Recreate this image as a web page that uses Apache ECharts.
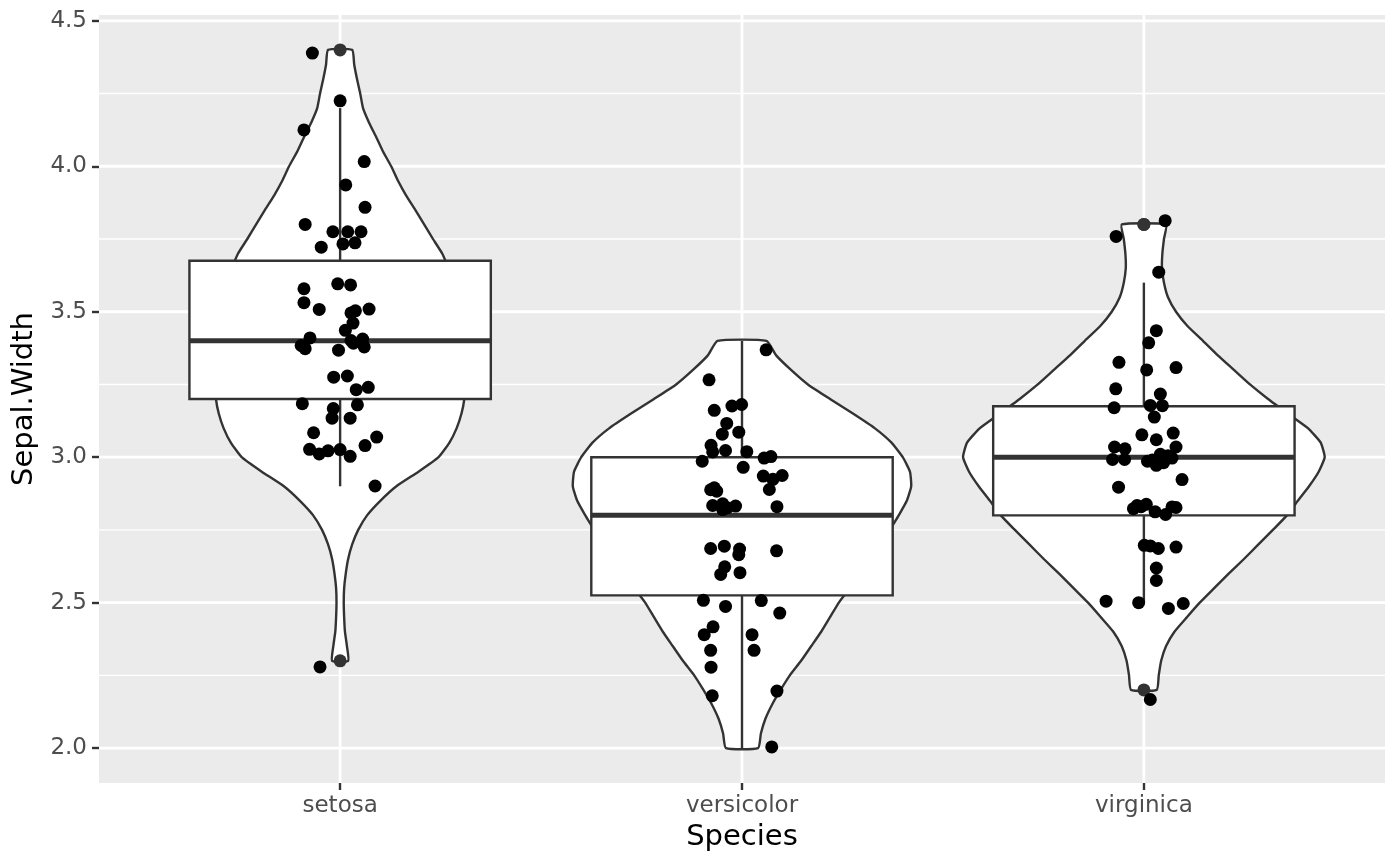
<!DOCTYPE html>
<html>
<head>
<meta charset="utf-8">
<title>Sepal.Width by Species</title>
<script src="https://cdn.jsdelivr.net/npm/echarts@6/dist/echarts.min.js"></script>
<style>
  html, body { margin: 0; padding: 0; background: #fff; }
  #chart { width: 1400px; height: 866px; }
</style>
</head>
<body>
<div id="chart"></div>
<script type="text/javascript">
// categories and axis ticks
var species = ['setosa', 'versicolor', 'virginica'];
var yMajor = [2.0, 2.5, 3.0, 3.5, 4.0, 4.5];
var yMinor = [2.25, 2.75, 3.25, 3.75, 4.25];

// box stats: lower whisker, Q1, median, Q3, upper whisker
var setosaBox = [2.9, 3.2, 3.4, 3.675, 4.2];
var versicolorBox = [2.0, 2.525, 2.8, 3.0, 3.4];
var virginicaBox = [2.5, 2.8, 3.0, 3.175, 3.6];
var setosaOut = [2.3, 4.4];
var versicolorOut = [];
var virginicaOut = [2.2, 3.8, 3.8];

// violin half widths (x units), read every 0.05 starting at the violin bottom
var violinStep = 0.05;
var setosaViolinFrom = 2.3;
var setosaViolin = [0.020, 0.017, 0.012, 0.010, 0.009, 0.010, 0.014, 0.020, 0.030, 0.045,
  0.067, 0.100, 0.140, 0.195, 0.245, 0.272, 0.290, 0.302, 0.309, 0.311, 0.314, 0.311, 0.309,
  0.304, 0.299, 0.291, 0.281, 0.269, 0.254, 0.231, 0.209, 0.187, 0.164, 0.144, 0.127, 0.107,
  0.090, 0.072, 0.057, 0.050, 0.042, 0.035, 0.030];
var versicolorViolinFrom = 2.0;
var versicolorViolin = [0.040, 0.047, 0.058, 0.075, 0.096, 0.119, 0.147, 0.172, 0.197, 0.219,
  0.241, 0.269, 0.299, 0.323, 0.348, 0.368, 0.390, 0.410, 0.421, 0.418, 0.400, 0.372, 0.330,
  0.276, 0.219, 0.164, 0.122, 0.085, 0.061];
var virginicaViolinFrom = 2.2;
var virginicaViolin = [0.032, 0.037, 0.043, 0.055, 0.076, 0.107, 0.139, 0.175, 0.211, 0.249,
  0.285, 0.321, 0.356, 0.383, 0.411, 0.435, 0.450, 0.440, 0.408, 0.358, 0.309, 0.264, 0.224,
  0.184, 0.147, 0.109, 0.080, 0.060, 0.050, 0.045, 0.046, 0.050, 0.055];

// jittered points: x offset from the category centre, and y value
var setosaJx = [-0.069, 0.000, -0.090, 0.060, 0.014, 0.062, -0.087, -0.018, 0.019, 0.052,
  -0.047, 0.007, 0.037, -0.006, 0.026, -0.090, -0.090, -0.052, 0.027, 0.038, 0.072, 0.032,
  0.013, -0.075, -0.097, -0.087, -0.004, 0.027, 0.056, 0.060, 0.033, -0.016, 0.018, 0.040,
  0.070, -0.094, -0.017, 0.043, -0.020, 0.025, -0.066, -0.076, -0.052, -0.030, 0.000, 0.025,
  0.062, 0.091, 0.087, -0.050];
var setosaJy = [4.389, 4.225, 4.125, 4.016, 3.936, 3.859, 3.800, 3.775, 3.775, 3.775,
  3.722, 3.733, 3.737, 3.596, 3.592, 3.579, 3.531, 3.508, 3.496, 3.503, 3.509, 3.461,
  3.436, 3.410, 3.384, 3.373, 3.368, 3.401, 3.406, 3.379, 3.392, 3.275, 3.279, 3.232,
  3.240, 3.184, 3.167, 3.180, 3.134, 3.134, 3.084, 3.027, 3.011, 3.022, 3.026, 3.003,
  3.040, 3.069, 2.901, 2.279];
var versicolorJx = [0.060, -0.082, -0.069, -0.025, -0.001, -0.038, -0.008, -0.049, -0.077, -0.073,
  -0.041, 0.012, 0.055, 0.072, -0.099, 0.003, 0.053, 0.100, 0.077, 0.068, -0.078, -0.063,
  -0.069, -0.073, -0.048, -0.048, -0.016, 0.087, -0.037, -0.078, -0.044, -0.008, -0.006,
  0.086, -0.043, -0.053, -0.005, -0.096, -0.041, 0.048, 0.094, -0.072, -0.094, 0.025,
  -0.078, 0.030, -0.077, -0.074, 0.087, 0.074];
var versicolorJy = [3.369, 3.266, 3.161, 3.176, 3.181, 3.116, 3.086, 3.079, 3.041, 3.018,
  3.023, 3.019, 2.997, 3.002, 2.986, 2.965, 2.935, 2.937, 2.924, 2.889, 2.888, 2.883,
  2.895, 2.834, 2.840, 2.820, 2.832, 2.830, 2.826, 2.686, 2.694, 2.665, 2.684,
  2.678, 2.623, 2.597, 2.603, 2.508, 2.487, 2.507, 2.464, 2.417, 2.390, 2.390,
  2.336, 2.336, 2.278, 2.180, 2.196, 2.004];
var virginicaJx = [0.053, -0.069, 0.037, 0.031, 0.012, -0.062, 0.007, 0.080, -0.070, 0.041,
  -0.074, 0.016, 0.046, 0.026, -0.005, 0.031, 0.073, 0.080, -0.073, -0.047, -0.078, -0.048,
  0.009, 0.031, 0.049, 0.070, 0.021, 0.060, 0.041, -0.063, 0.095, -0.026, -0.017, 0.006,
  0.028, 0.054, 0.080, 0.070, -0.007, 0.001, 0.016, 0.036, 0.080, 0.031, 0.031, -0.094,
  -0.013, 0.061, 0.098, 0.016];
var virginicaJy = [3.813, 3.759, 3.636, 3.435, 3.393, 3.326, 3.300, 3.308, 3.235, 3.217,
  3.170, 3.178, 3.177, 3.138, 3.077, 3.060, 3.083, 3.035, 3.035, 3.029, 2.992, 2.992,
  2.986, 2.972, 2.981, 2.997, 2.990, 3.005, 3.010, 2.897, 2.923, 2.823, 2.834, 2.838,
  2.812, 2.803, 2.827, 2.829, 2.830, 2.697, 2.695, 2.686, 2.691, 2.619, 2.576, 2.505,
  2.500, 2.480, 2.497, 2.167];

var xMin = 0.4, xMax = 3.6, yMin = 1.88, yMax = 4.52;
var boxHalf = 0.375;
var ink = '#333333';
var font = 'DejaVu Sans';

var boxes = [setosaBox, versicolorBox, virginicaBox];
var outs = [setosaOut, versicolorOut, virginicaOut];
var violins = [
  { from: setosaViolinFrom, half: setosaViolin },
  { from: versicolorViolinFrom, half: versicolorViolin },
  { from: virginicaViolinFrom, half: virginicaViolin }
];
var jx = [setosaJx, versicolorJx, virginicaJx];
var jy = [setosaJy, versicolorJy, virginicaJy];

var outlierData = [];
var pointData = [];
for (var s = 0; s < species.length; s++) {
  outs[s].forEach(function (v) { outlierData.push([s + 1, v]); });
  for (var k = 0; k < jx[s].length; k++) pointData.push([s + 1 + jx[s][k], jy[s][k]]);
}

function hline(api, y, w) {
  var a = api.coord([xMin, y]), b = api.coord([xMax, y]);
  return { type: 'line', shape: { x1: a[0], y1: a[1], x2: b[0], y2: b[1] },
    style: { stroke: '#ffffff', lineWidth: w } };
}
function vline(api, x, w) {
  var a = api.coord([x, yMin]), b = api.coord([x, yMax]);
  return { type: 'line', shape: { x1: a[0], y1: a[1], x2: b[0], y2: b[1] },
    style: { stroke: '#ffffff', lineWidth: w } };
}

var myChart = echarts.init(document.getElementById('chart'));
var option = {
  backgroundColor: '#ffffff',
  animation: false,
  grid: { left: 99, top: 15, right: 15, bottom: 83, show: true,
    backgroundColor: '#EBEBEB', borderWidth: 0 },
  xAxis: {
    type: 'value', min: xMin, max: xMax,
    name: 'Species', nameLocation: 'middle', nameGap: 38,
    nameTextStyle: { color: '#000', fontSize: 29, fontFamily: font },
    axisLine: { show: false },
    splitLine: { show: false },
    axisTick: { show: true, customValues: [1, 2, 3], length: 7, lineStyle: { color: ink, width: 2.4 } },
    axisLabel: { customValues: [1, 2, 3], margin: 12, color: '#4D4D4D', fontSize: 23, fontFamily: font,
      formatter: function (v) { return species[Math.round(v) - 1]; } }
  },
  yAxis: {
    type: 'value', min: yMin, max: yMax,
    name: 'Sepal.Width', nameLocation: 'middle', nameGap: 60,
    nameTextStyle: { color: '#000', fontSize: 29, fontFamily: font },
    axisLine: { show: false },
    splitLine: { show: false },
    axisTick: { show: true, customValues: yMajor, length: 7, lineStyle: { color: ink, width: 2.4 } },
    axisLabel: { customValues: yMajor, margin: 12, color: '#4D4D4D', fontSize: 23, fontFamily: font,
      formatter: function (v) { return v.toFixed(1); } }
  },
  series: [
    {
      // panel grid lines
      type: 'custom', z: 1, silent: true, data: [[0]],
      renderItem: function (params, api) {
        var kids = [];
        yMinor.forEach(function (y) { kids.push(hline(api, y, 1.4)); });
        yMajor.forEach(function (y) { kids.push(hline(api, y, 2.8)); });
        [1, 2, 3].forEach(function (x) { kids.push(vline(api, x, 2.8)); });
        return { type: 'group', children: kids };
      }
    },
    {
      // violins
      type: 'custom', z: 3, silent: true, data: [[1], [2], [3]],
      renderItem: function (params, api) {
        var c = api.value(0);
        var prof = violins[params.dataIndex];
        var left = [], right = [];
        for (var i = 0; i < prof.half.length; i++) {
          var y = prof.from + i * violinStep;
          left.push(api.coord([c - prof.half[i], y]));
          right.unshift(api.coord([c + prof.half[i], y]));
        }
        return { type: 'polygon', shape: { points: left.concat(right), smooth: 0.15 },
          style: { fill: '#ffffff', stroke: ink, lineWidth: 2.4 } };
      }
    },
    {
      // boxplots
      type: 'custom', z: 4, silent: true, data: [[1], [2], [3]],
      renderItem: function (params, api) {
        var c = api.value(0);
        var b = boxes[params.dataIndex];
        var tl = api.coord([c - boxHalf, b[3]]);
        var br = api.coord([c + boxHalf, b[1]]);
        var lo = api.coord([c, b[0]]), q1 = api.coord([c, b[1]]);
        var q3 = api.coord([c, b[3]]), hi = api.coord([c, b[4]]);
        var ml = api.coord([c - boxHalf, b[2]]), mr = api.coord([c + boxHalf, b[2]]);
        var st = { stroke: ink, lineWidth: 2.4 };
        return { type: 'group', children: [
          { type: 'line', shape: { x1: hi[0], y1: hi[1], x2: q3[0], y2: q3[1] }, style: st },
          { type: 'line', shape: { x1: q1[0], y1: q1[1], x2: lo[0], y2: lo[1] }, style: st },
          { type: 'rect', shape: { x: tl[0], y: tl[1], width: br[0] - tl[0], height: br[1] - tl[1] },
            style: { fill: '#ffffff', stroke: ink, lineWidth: 2.4 } },
          { type: 'line', shape: { x1: ml[0], y1: ml[1], x2: mr[0], y2: mr[1] },
            style: { stroke: ink, lineWidth: 5 } }
        ] };
      }
    },
    {
      type: 'scatter', z: 5, silent: true, data: outlierData,
      symbol: 'circle', symbolSize: 13, itemStyle: { color: ink, opacity: 1 }
    },
    {
      type: 'scatter', z: 6, silent: true, data: pointData,
      symbol: 'circle', symbolSize: 13, itemStyle: { color: '#000000', opacity: 1 }
    }
  ]
};
myChart.setOption(option);
</script>
</body>
</html>
